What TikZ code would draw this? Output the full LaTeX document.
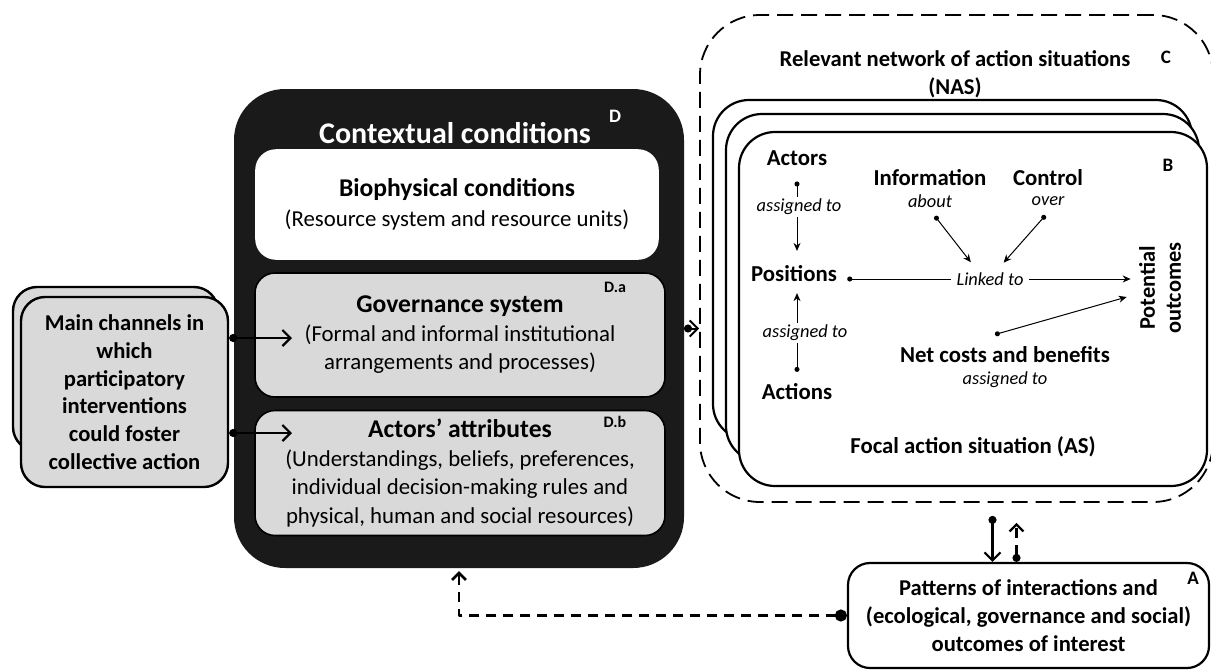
\documentclass[tikz,border=0pt]{standalone}
\usepackage{fontspec}
\setmainfont{Carlito}
\usetikzlibrary{arrows.meta,positioning}

\definecolor{boxgray}{RGB}{217,217,217}
\definecolor{ctxfill}{RGB}{26,26,26}

\newcommand{\boxfont}{\fontsize{11.4}{14.25}\selectfont}
\newcommand{\boxtitle}{\fontsize{12.8}{15}\selectfont\bfseries}
\newcommand{\asfont}{\fontsize{11.4}{13}\selectfont\bfseries}
\newcommand{\lblfont}{\fontsize{9.2}{10.5}\selectfont\itshape}

\tikzset{
  chanbox/.style={draw, line width=1.2pt, fill=boxgray, rounded corners=12pt, align=center,
    font=\fontsize{11.3}{13.85}\selectfont\bfseries},
  ctxbox/.style={draw=ctxfill, line width=1pt, fill=ctxfill, rounded corners=25pt},
  innerbox/.style={draw=black, line width=0.8pt, rounded corners=10pt, align=center, font=\boxfont},
  nasbox/.style={draw, line width=0.9pt, dash pattern=on 8pt off 4pt, rounded corners=30pt},
  asbox/.style={draw, line width=1.1pt, fill=white, rounded corners=18pt},
  outbox/.style={draw, line width=1.1pt, fill=white, rounded corners=11pt, align=center,
    font=\fontsize{11.3}{14}\selectfont\bfseries},
  tag/.style={font=\fontsize{8}{9}\selectfont\bfseries},
  bigtag/.style={font=\fontsize{9.5}{11}\selectfont\bfseries},
  aslabel/.style={font=\asfont, inner sep=0pt},
  lbl/.style={font=\lblfont, inner sep=1pt},
  dotarrow/.style={line width=1.1pt, {Circle[length=4pt]}-{Straight Barb[length=4pt,width=8pt]}},
  dashback/.style={line width=1.4pt, dash pattern=on 5pt off 3.5pt,
    {Circle[length=6pt]}-{Straight Barb[length=3.5pt,width=7pt]}},
  smallarrow/.style={line width=0.5pt, {Circle[length=2.5pt]}-{Stealth[length=4pt,width=3.5pt]}}
}

\begin{document}
\begin{tikzpicture}[x=0.5pt, y=-0.5pt, line join=round]
\useasboundingbox (0,0) rectangle (1211,671);

% participatory channels
\node[chanbox, minimum width=102.5pt, minimum height=82pt] (chanback) at (115.5,369) {};
\node[chanbox, minimum width=103.5pt, minimum height=95pt] (chan) at (124.5,392)
  {Main channels in\\which\\participatory\\interventions\\could foster\\collective action};

% contextual conditions (D)
\node[ctxbox, minimum width=224pt, minimum height=238.5pt] (ctx) at (459,328.5) {};
\node[font=\fontsize{15}{18}\selectfont\bfseries, text=white] (ctxttl) at (455,133) {Contextual conditions};
\node[bigtag, text=white] (tagD) at (615,116) {D};

\node[innerbox, draw=white, fill=white, minimum width=201pt, minimum height=54.5pt] (bio) at (457,204.5)
  {{\boxtitle Biophysical conditions}\\[1pt](Resource system and resource units)};
\node[innerbox, fill=boxgray, minimum width=205pt, minimum height=62pt] (gov) at (460,335)
  {{\boxtitle Governance system}\\(Formal and informal institutional\\arrangements and processes)};
\node[tag] (tagDa) at (615,287) {D.a};
\node[innerbox, fill=boxgray, minimum width=205pt, minimum height=62.5pt] (attr) at (460,473)
  {{\boxtitle Actors’ attributes}\\(Understandings, beliefs, preferences,\\individual decision-making rules and\\physical, human and social resources)};
\node[tag] (tagDb) at (615,422) {D.b};

\coordinate (govin) at (292,338);
\coordinate (attrin) at (292,433);
\draw[dotarrow] (chan.east |- govin) -- (govin);
\draw[dotarrow] (chan.east |- attrin) -- (attrin);

% network of action situations (C)
\node[nasbox, minimum width=256.5pt, minimum height=243.5pt] (nas) at (956.5,258.5) {};
\node[align=center, font=\fontsize{11.3}{14}\selectfont\bfseries] (nasttl) at (955,74)
  {Relevant network of action situations\\(NAS)};
\node[bigtag] (tagC) at (1166,57) {C};

\node[asbox, minimum width=239.5pt, minimum height=170pt] (as1) at (952.5,270) {};
\node[asbox, minimum width=236.5pt, minimum height=174pt] (as2) at (962.5,288) {};
\node[asbox, minimum width=234pt, minimum height=177pt] (as) at (973,309) {};
\node[bigtag] (tagB) at (1168,165) {B};

\draw[dotarrow, line width=1pt] (ctx.east) -- (ctx.east -| nas.west);

% focal action situation (B)
\node[aslabel] (actors) at (797,158) {Actors};
\node[aslabel] (positions) at (794,274) {Positions};
\node[aslabel] (actions) at (797,392) {Actions};
\node[aslabel] (info) at (930,178) {Information};
\node[lbl] (about) at (930,201) {about};
\node[aslabel] (control) at (1048,178) {Control};
\node[lbl] (over) at (1048,201) {over};
\node[aslabel] (net) at (1005,355) {Net costs and benefits};
\node[lbl] (netto) at (1005,380) {assigned to};
\node[aslabel, align=center, rotate=90, font=\fontsize{11.2}{13}\selectfont\bfseries] (potential) at (1160,288) {Potential\\outcomes};
\node[aslabel] (focal) at (973,447) {Focal action situation (AS)};

\draw[smallarrow, shorten <=7.8pt, shorten >=7.3pt] (actors.south) -- (actors.south |- positions.north)
  node[lbl, fill=white, pos=0.41, xshift=1pt] {assigned to};
\draw[smallarrow, shorten <=5.8pt, shorten >=5.3pt] (actions.north) -- (actions.north |- positions.south)
  node[lbl, fill=white, pos=0.5, xshift=4pt] {assigned to};
\draw[smallarrow, shorten <=5pt, shorten >=4pt] ([yshift=-2.5pt]positions.east) -- ([yshift=-2.5pt]positions.east -| potential.north);
\node[lbl, fill=white, inner xsep=3pt] (linked) at (990,279) {Linked to};
\draw[smallarrow, shorten <=4pt, shorten >=5pt] (about.south) -- ([xshift=-6.5pt]linked.north);
\draw[smallarrow, shorten <=5pt, shorten >=5pt] ([xshift=2pt]over.south) -- ([xshift=3.5pt]linked.north);
\draw[smallarrow] ([xshift=-5pt,yshift=6pt]net.north) -- ([xshift=-6pt,yshift=-4.5pt]potential.north);

% patterns of interactions and outcomes (A)
\node[outbox, minimum width=180.5pt, minimum height=52.5pt] (out) at (1028.5,615.5)
  {Patterns of interactions and\\(ecological, governance and social)\\outcomes of interest};
\node[bigtag] (tagA) at (1193,578) {A};

\draw[dotarrow, shorten <=6.5pt] ([xshift=18pt]nas.south) -- ([xshift=18pt]nas.south |- out.north);
\draw[line width=1.1pt, dash pattern=on 5pt off 3.5pt, {Circle[length=4pt]}-{Straight Barb[length=3.5pt,width=7pt]}, shorten >=10pt]
  ([xshift=30pt]nas.south |- out.north) -- ([xshift=30pt]nas.south);
\draw[dashback, shorten >=1.5pt] (out.west) -| (ctx.south);
\end{tikzpicture}
\end{document}
